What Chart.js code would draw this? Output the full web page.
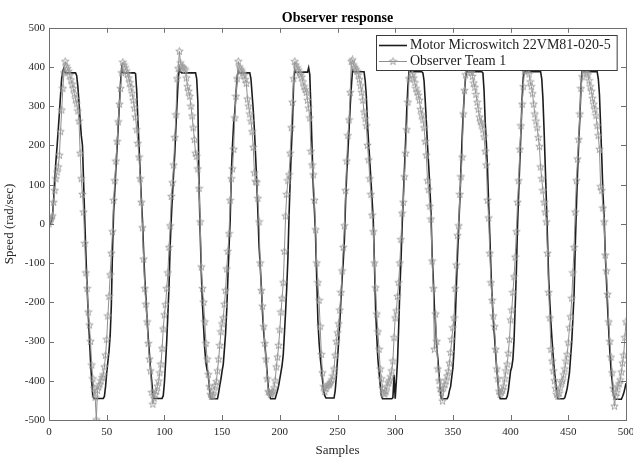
<!DOCTYPE html>
<html>
<head>
<meta charset="utf-8">
<script src="https://cdn.jsdelivr.net/npm/chart.js@4/dist/chart.umd.min.js"></script>
<style>
    html, body { margin: 0; padding: 0; background: #fff; }
    #wrap { width: 633px; height: 457px; }
</style>
</head>
<body>
<div id="wrap"><canvas id="observer_chart" width="633" height="457"></canvas></div>
<script>
// values, one row per 10 samples
var motorSpeed = [
    0, 0, 6, 20, 60, 115, 160, 198, 240, 282,
    328, 372, 390, 398, 386, 385, 385, 385, 385, 385,
    385, 385, 385, 385, 378, 350, 310, 265, 225, 200,
    105, 10, -80, -160, -230, -290, -350, -400, -440, -445,
    -445, -445, -445, -445, -445, -445, -445, -445, -440, -415,
    -380, -352, -325, -285, -210, -70, 30, 85, 145, 195,
    250, 305, 360, 398, 386, 385, 385, 385, 385, 385,
    385, 385, 385, 385, 385, 383, 340, 265, 200, 130,
    65, 10, -70, -140, -190, -245, -290, -330, -370, -400,
    -435, -445, -445, -445, -445, -445, -445, -445, -445, -438,
    -405, -355, -300, -230, -160, -55, 15, 75, 130, 180,
    250, 310, 370, 398, 388, 385, 385, 385, 385, 385,
    385, 385, 385, 385, 385, 385, 385, 385, 370, 310,
    100, -20, -125, -205, -265, -320, -355, -372, -385, -420,
    -446, -446, -446, -446, -446, -446, -446, -430, -412, -395,
    -375, -358, -320, -280, -220, -140, -60, 10, 130, 200,
    255, 285, 330, 375, 390, 386, 385, 385, 385, 385,
    385, 385, 385, 385, 385, 370, 330, 290, 240, 175,
    110, 30, -55, -105, -160, -225, -275, -305, -340, -380,
    -418, -435, -446, -446, -446, -446, -446, -435, -425, -412,
    -395, -378, -360, -333, -280, -225, -163, -90, 20, 110,
    190, 260, 360, 392, 387, 387, 387, 387, 387, 387,
    387, 387, 387, 387, 387, 398, 380, 290, 190, 95,
    35, -30, -140, -245, -300, -340, -367, -398, -425, -438,
    -444, -444, -444, -444, -444, -444, -444, -444, -425, -390,
    -345, -300, -250, -190, -140, -95, -40, 55, 130, 185,
    240, 300, 350, 392, 388, 388, 388, 388, 388, 388,
    388, 388, 388, 388, 365, 325, 255, 205, 160, 110,
    60, 10, -100, -215, -285, -345, -378, -410, -438, -446,
    -446, -446, -446, -446, -446, -446, -446, -446, -443, -385,
    -446, -400, -350, -265, -170, -95, -5, 65, 140, 210,
    290, 350, 390, 388, 388, 388, 388, 388, 388, 388,
    388, 388, 388, 388, 385, 365, 315, 260, 200, 150,
    95, 30, -80, -140, -215, -262, -315, -345, -385, -420,
    -446, -446, -446, -446, -446, -446, -440, -425, -415, -390,
    -367, -320, -250, -160, -80, -10, 60, 140, 220, 285,
    335, 375, 390, 388, 388, 388, 388, 388, 388, 388,
    388, 388, 388, 388, 388, 388, 385, 340, 260, 206,
    140, 50, -30, -120, -190, -245, -285, -330, -370, -400,
    -435, -446, -446, -446, -446, -446, -446, -440, -425, -400,
    -375, -365, -345, -295, -210, -120, -5, 80, 160, 240,
    320, 375, 390, 388, 388, 388, 388, 388, 388, 388,
    388, 388, 388, 388, 388, 388, 388, 370, 320, 240,
    150, 60, -40, -140, -200, -255, -300, -340, -375, -400,
    -430, -446, -446, -446, -446, -446, -446, -443, -432, -420,
    -400, -380, -340, -300, -240, -180, -60, 40, 130, 206,
    270, 350, 390, 388, 388, 388, 388, 388, 388, 388,
    388, 388, 388, 388, 388, 388, 370, 330, 250, 170,
    80, 20, -75, -140, -210, -270, -325, -370, -400, -432,
    -445, -447, -447, -447, -447, -447, -447, -440, -432, -420,
    -406
];

var observerSpeed = [
    0, 8, 14, 20, 55, 85, 115, 132, 145, 175,
    235, 290, 345, 385, 414, 402, 396, 389, 378, 367,
    356, 345, 332, 318, 306, 288, 262, 180, 115, 75,
    30, -50, -125, -165, -225, -258, -300, -360, -395, -420,
    -442, -500, -425, -415, -410, -400, -392, -385, -365, -335,
    -295, -235, -185, -130, -75, -20, 60, 110, 160, 210,
    260, 305, 345, 385, 412, 405, 398, 390, 382, 372,
    360, 348, 333, 315, 295, 272, 240, 205, 170, 115,
    55, -10, -90, -165, -205, -250, -305, -345, -375, -430,
    -460, -445, -435, -427, -414, -401, -380, -358, -318, -268,
    -232, -206, -165, -125, -60, -5, 70, 105, 150, 220,
    278, 370, 396, 440, 410, 402, 399, 396, 392, 372,
    350, 338, 325, 300, 275, 245, 215, 180, 172, 140,
    90, 5, -110, -165, -200, -250, -305, -345, -384, -415,
    -435, -440, -438, -425, -412, -402, -375, -345, -310, -275,
    -255, -240, -205, -170, -115, -70, -25, 60, 115, 140,
    190, 270, 325, 370, 414, 400, 394, 390, 384, 378,
    368, 358, 318, 300, 280, 262, 235, 195, 130, 108,
    106, 65, 5, -100, -170, -210, -262, -305, -345, -395,
    -428, -430, -435, -432, -428, -418, -400, -365, -340, -310,
    -270, -225, -190, -150, -70, 20, 75, 110, 125, 180,
    245, 310, 370, 414, 405, 398, 392, 386, 380, 374,
    362, 350, 342, 335, 315, 295, 270, 185, 150, 125,
    60, -15, -100, -150, -195, -262, -333, -380, -415, -428,
    -420, -414, -410, -410, -405, -398, -388, -370, -335, -300,
    -278, -255, -220, -175, -120, -60, -5, 85, 160, 225,
    265, 335, 414, 418, 405, 399, 394, 389, 380, 368,
    352, 335, 315, 285, 268, 250, 200, 163, 115, 75,
    22, -20, -100, -163, -230, -275, -320, -370, -395, -420,
    -432, -434, -428, -415, -405, -400, -390, -375, -350, -290,
    -240, -222, -185, -150, -100, -40, 27, 55, 120, 180,
    240, 310, 370, 410, 398, 380, 372, 360, 345, 336,
    328, 315, 292, 278, 265, 245, 210, 175, 110, 87,
    45, 12, -95, -165, -320, -230, -300, -370, -400, -420,
    -430, -452, -418, -410, -400, -388, -376, -355, -328, -295,
    -265, -240, -165, -105, -30, -5, 75, 120, 170, 280,
    340, 380, 400, 412, 402, 394, 386, 376, 359, 348,
    330, 310, 292, 272, 260, 254, 240, 222, 185, 150,
    60, 15, -75, -150, -195, -235, -262, -320, -370, -395,
    -427, -435, -430, -424, -414, -395, -375, -358, -330, -295,
    -245, -220, -175, -135, -85, -20, 55, 110, 190, 250,
    305, 350, 389, 410, 402, 392, 382, 362, 350, 332,
    305, 280, 262, 245, 220, 197, 145, 115, 85, 55,
    30, 5, -75, -175, -240, -320, -350, -375, -400, -420,
    -435, -440, -432, -418, -405, -400, -385, -370, -350, -333,
    -303, -265, -237, -190, -125, -60, 30, 110, 165, 215,
    280, 345, 375, 405, 398, 392, 385, 380, 365, 350,
    338, 320, 305, 292, 276, 250, 225, 190, 95, 85,
    40, 5, -80, -120, -180, -250, -300, -340, -380, -420,
    -465, -440, -430, -415, -408, -398, -378, -355, -335, -290,
    -250
];

var seriesLabels = ['Motor Microswitch 22VM81-020-5', 'Observer Team 1'];
var xTicks = [0, 50, 100, 150, 200, 250, 300, 350, 400, 450, 500];
var yTicks = [-500, -400, -300, -200, -100, 0, 100, 200, 300, 400, 500];

var sFont = "'Liberation Serif', 'Times New Roman', serif";
var sColorMotor = '#1c1c1c';
var sColorObserver = '#8e8e8e';
var sColorStar = '#9c9c9c';
var sColorAxes = '#6f6f6f';

// MATLAB-like pentagram outline, used as the point image
function makeStar(iSize, sColor) {
    var oCanvas = document.createElement('canvas');
    oCanvas.width = iSize;
    oCanvas.height = iSize;
    var ctx = oCanvas.getContext('2d');
    var c = iSize / 2, R = iSize / 2 - 0.6, r = R * 0.4;
    ctx.beginPath();
    for (var i = 0; i < 10; i++) {
        var a = -Math.PI / 2 + i * Math.PI / 5;
        var d = i % 2 ? r : R;
        ctx.lineTo(c + d * Math.cos(a), c + d * Math.sin(a));
    }
    ctx.closePath();
    ctx.strokeStyle = sColor;
    ctx.lineWidth = 0.9;
    ctx.stroke();
    return oCanvas;
}

var oStar = makeStar(9, sColorStar);

function toPoints(aValues) {
    return aValues.map(function(v, i) { return {x: i, y: v}; });
}

// axes box with inward ticks on all four sides
var oAxesBox = {
    id: 'axesBox',
    afterDatasetsDraw: function(chart) {
        var ctx = chart.ctx, a = chart.chartArea;
        var sx = chart.scales.x, sy = chart.scales.y;
        var iTick = 5;
        ctx.save();
        ctx.strokeStyle = sColorAxes;
        ctx.lineWidth = 1;
        ctx.strokeRect(Math.round(a.left) + 0.5, Math.round(a.top) + 0.5,
            Math.round(a.right - a.left), Math.round(a.bottom - a.top));
        ctx.beginPath();
        xTicks.forEach(function(v) {
            var px = Math.round(sx.getPixelForValue(v)) + 0.5;
            ctx.moveTo(px, a.bottom); ctx.lineTo(px, a.bottom - iTick);
            ctx.moveTo(px, a.top); ctx.lineTo(px, a.top + iTick);
        });
        yTicks.forEach(function(v) {
            var py = Math.round(sy.getPixelForValue(v)) + 0.5;
            ctx.moveTo(a.left, py); ctx.lineTo(a.left + iTick, py);
            ctx.moveTo(a.right, py); ctx.lineTo(a.right - iTick, py);
        });
        ctx.stroke();
        ctx.restore();
    }
};

// legend box inside the plot, top right
var oLegendBox = {
    id: 'legendBox',
    afterDraw: function(chart) {
        var ctx = chart.ctx, a = chart.chartArea;
        ctx.save();
        ctx.font = '14px ' + sFont;
        var iTextW = Math.max(ctx.measureText(seriesLabels[0]).width, ctx.measureText(seriesLabels[1]).width);
        var iW = 34 + iTextW + 6, iH = 35;
        var x0 = Math.round(a.right - 9 - iW), y0 = Math.round(a.top + 7);
        ctx.fillStyle = '#fff';
        ctx.fillRect(x0, y0, iW, iH);
        ctx.strokeStyle = '#3a3a3a';
        ctx.lineWidth = 1;
        ctx.strokeRect(x0 + 0.5, y0 + 0.5, iW, iH);

        var aRows = [y0 + 10.5, y0 + 26.5];
        ctx.lineWidth = 1.6;
        ctx.strokeStyle = sColorMotor;
        ctx.beginPath(); ctx.moveTo(x0 + 3, aRows[0]); ctx.lineTo(x0 + 31, aRows[0]); ctx.stroke();
        ctx.lineWidth = 1;
        ctx.strokeStyle = sColorObserver;
        ctx.beginPath(); ctx.moveTo(x0 + 3, aRows[1]); ctx.lineTo(x0 + 31, aRows[1]); ctx.stroke();
        ctx.drawImage(oStar, x0 + 17 - oStar.width / 2, aRows[1] - oStar.height / 2);

        ctx.fillStyle = '#222';
        ctx.textBaseline = 'middle';
        ctx.fillText(seriesLabels[0], x0 + 34, aRows[0]);
        ctx.fillText(seriesLabels[1], x0 + 34, aRows[1]);
        ctx.restore();
    }
};

new Chart(document.getElementById('observer_chart'), {
    type: 'line',
    data: {
        datasets: [{
            label: seriesLabels[0],
            data: toPoints(motorSpeed),
            borderColor: sColorMotor,
            borderWidth: 1.6,
            pointRadius: 0,
            tension: 0,
            order: 2
        }, {
            label: seriesLabels[1],
            data: toPoints(observerSpeed),
            borderColor: sColorObserver,
            borderWidth: 1,
            pointStyle: oStar,
            pointRadius: 4,
            tension: 0,
            order: 1
        }]
    },
    options: {
        responsive: false,
        devicePixelRatio: 1,
        animation: false,
        layout: { padding: { left: 0, right: 7, top: 0, bottom: 0 } },
        plugins: {
            legend: { display: false },
            tooltip: { enabled: false },
            title: {
                display: true,
                text: 'Observer response',
                fullSize: false,
                color: '#000',
                font: { family: sFont, size: 14, weight: 'bold', lineHeight: 1.2 },
                padding: { top: 10, bottom: 1 }
            }
        },
        scales: {
            x: {
                type: 'linear',
                min: 0,
                max: 500,
                grid: { display: false, drawTicks: false },
                border: { display: false },
                afterBuildTicks: function(scale) {
                    scale.ticks = xTicks.map(function(v) { return {value: v}; });
                },
                afterFit: function(scale) {
                    scale.height = 37;
                    scale.paddingLeft = 0;
                    scale.paddingRight = 0;
                },
                ticks: {
                    color: '#262626',
                    padding: 6,
                    maxRotation: 0,
                    autoSkip: false,
                    font: { family: sFont, size: 11 }
                },
                title: {
                    display: true,
                    text: 'Samples',
                    color: '#262626',
                    padding: 0,
                    font: { family: sFont, size: 13, lineHeight: 1.0 }
                }
            },
            y: {
                type: 'linear',
                min: -500,
                max: 500,
                grid: { display: false, drawTicks: false },
                border: { display: false },
                afterBuildTicks: function(scale) {
                    scale.ticks = yTicks.map(function(v) { return {value: v}; });
                },
                afterFit: function(scale) {
                    scale.width = 49;
                    scale.paddingTop = 0;
                    scale.paddingBottom = 0;
                },
                ticks: {
                    color: '#262626',
                    padding: 4,
                    autoSkip: false,
                    font: { family: sFont, size: 11 }
                },
                title: {
                    display: true,
                    text: 'Speed (rad/sec)',
                    color: '#262626',
                    padding: { top: 2, bottom: 0 },
                    font: { family: sFont, size: 13, lineHeight: 1.2 }
                }
            }
        }
    },
    plugins: [oAxesBox, oLegendBox]
});
</script>
</body>
</html>
